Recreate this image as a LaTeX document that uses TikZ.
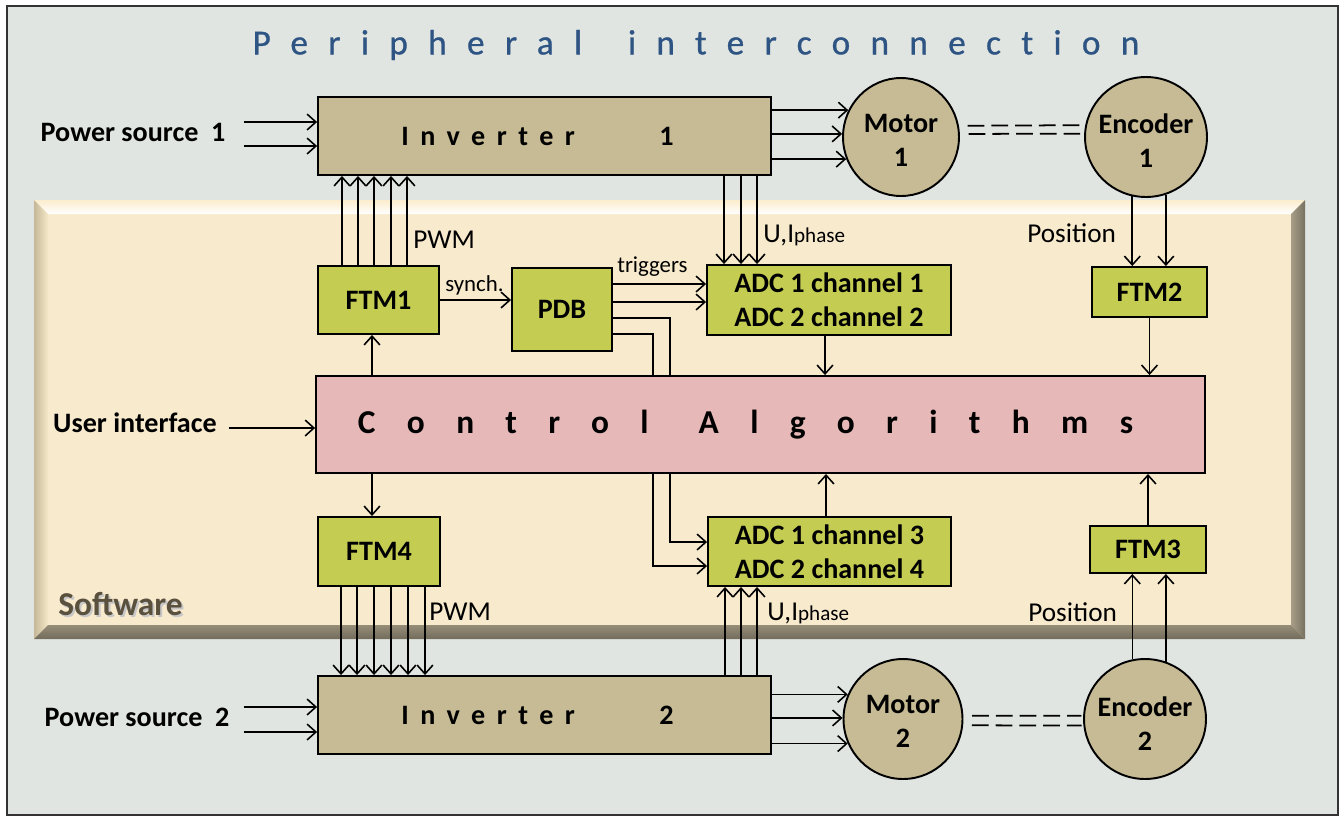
\documentclass[tikz,border=0pt]{standalone}
\usepackage{fontspec}
\setmainfont{Carlito}
\usetikzlibrary{shapes.geometric,arrows.meta}
\definecolor{bgray}{RGB}{225,229,225}
\definecolor{panel}{RGB}{248,234,205}
\definecolor{tanfill}{RGB}{198,187,148}
\definecolor{ftmgreen}{RGB}{196,205,82}
\definecolor{ctrlpink}{RGB}{230,184,183}
\definecolor{titleblue}{RGB}{46,84,132}
\definecolor{swtext}{RGB}{89,80,62}

\begin{document}
\begin{tikzpicture}[x=0.02cm,y=-0.02cm,
  arr/.style={-{Straight Barb[length=5pt,width=9pt]},line width=0.9pt},
  blk/.style={draw,line width=1.1pt,fill=ftmgreen,inner sep=0pt,align=center,font=\bfseries\fontsize{16}{19.3}\selectfont},
  invbox/.style={draw,line width=1.1pt,fill=tanfill,minimum width=9.06cm,minimum height=1.56cm,inner sep=0pt,font=\bfseries\fontsize{16}{19}\selectfont\addfontfeatures{LetterSpace=41}},
  mach/.style={ellipse,draw,line width=1.1pt,fill=tanfill,inner sep=0pt},
  machtxt/.style={align=center,inner sep=0pt,font=\bfseries\fontsize{16}{19.3}\selectfont},
  side/.style={font=\bfseries\fontsize{16}{19}\selectfont,inner sep=0pt},
  note/.style={font=\fontsize{15.5}{18}\selectfont,inner sep=0pt},
  small/.style={font=\fontsize{13}{15}\selectfont,inner sep=0pt},
  dbl/.style={dash pattern=on 9.5pt off 4pt,line width=1pt,shorten <=5pt,shorten >=1pt}]
\useasboundingbox (0,0) rectangle (1343,819);
\fill[white] (0,0) rectangle (1343,819);
\draw[fill=bgray,line width=1.2pt,draw=black!80] (7,6) rectangle (1338,815);

% software panel
\fill[panel] (34,200) rectangle (1305,639);
\shade[top color={rgb,255:red,251;green,237;blue,205},bottom color=white] (34,200) -- (1305,200) -- (1291,214) -- (48,214) -- cycle;
\shade[left color={rgb,255:red,196;green,184;blue,152},right color={rgb,255:red,245;green,232;blue,200}] (34,200) -- (48,214) -- (48,625) -- (34,639) -- cycle;
\shade[left color={rgb,255:red,168;green,158;blue,136},right color={rgb,255:red,120;green,112;blue,96}] (1305,200) -- (1305,639) -- (1291,625) -- (1291,214) -- cycle;
\shade[top color={rgb,255:red,150;green,141;blue,120},bottom color={rgb,255:red,115;green,108;blue,92}] (34,639) -- (48,625) -- (1291,625) -- (1305,639) -- cycle;
\node[font=\bfseries\fontsize{19}{22}\selectfont,text=black!22,anchor=west,inner sep=0pt] (swsh) at (60,606) {Software};
\node[font=\bfseries\fontsize{19}{22}\selectfont,text=swtext,anchor=west,inner sep=0pt] (sw) at (58,604) {Software};

% title
\node[font=\fontsize{20}{24}\selectfont\addfontfeatures{LetterSpace=58,Ligatures=NoCommon,FakeBold=0.8},text=titleblue] (title) at (696,45) {Peripheral\hspace{0.5em} interconnection};

% blocks
\node[invbox] (inv1) at (544.5,136) {Inverter\hspace{3em}1\hspace*{0.28cm}};
\node[invbox] (inv2) at (544.5,715) {Inverter\hspace{3em}2\hspace*{0.28cm}};
\node[blk,minimum width=2.42cm,minimum height=1.36cm] (ftm1) at (378.5,300) {FTM1};
\node[blk,minimum width=2.44cm,minimum height=1.38cm] (ftm4) at (379,551.5) {FTM4};
\node[blk,minimum width=2cm,minimum height=1.66cm] (pdb) at (562,309.5) {PDB};
\node[blk,minimum width=4.88cm,minimum height=1.4cm] (adc12) at (829,300) {ADC 1 channel 1\\ADC 2 channel 2};
\node[blk,minimum width=4.86cm,minimum height=1.38cm] (adc34) at (829.5,551.5) {ADC 1 channel 3\\ADC 2 channel 4};
\node[blk,minimum width=2.3cm,minimum height=1cm] (ftm2) at (1149.5,292) {FTM2};
\node[blk,minimum width=2.32cm,minimum height=0.94cm] (ftm3) at (1148,549.5) {FTM3};

% motors and encoders
\node[mach,minimum width=2.32cm,minimum height=2.36cm] (mot1) at (901,137) {};
\node[machtxt] (mot1txt) at (901,140) {Motor\\1};
\node[mach,minimum width=2.44cm,minimum height=2.4cm] (enc1) at (1146,137) {};
\node[machtxt] (enc1txt) at (1146,141) {Encoder\\1};
\node[mach,minimum width=2.38cm,minimum height=2.4cm] (mot2) at (903,719) {};
\node[machtxt] (mot2txt) at (903,721) {Motor\\2};
\node[mach,minimum width=2.44cm,minimum height=2.4cm] (enc2) at (1145,719) {};
\node[machtxt] (enc2txt) at (1145,724) {Encoder\\2};

% PDB to ADC 3/4, behind the control box
\draw[arr] (pdb.east |- 0,318) -| (670,542) -- (adc34.west |- 0,542);
\draw[arr] (pdb.east |- 0,334) -| (653,566) -- (adc34.west |- 0,566);

\node[draw,line width=1.1pt,fill=ctrlpink,minimum width=17.78cm,minimum height=1.94cm,inner sep=0pt,
  font=\bfseries\fontsize{19}{22}\selectfont\addfontfeatures{LetterSpace=94}] (ctrl) at (760.5,424.5) {Control\hspace{1.5em}Algorithms\hspace*{0.6cm}};

% side labels
\node[side] (ps1) at (133,132) {Power source\hspace{0.45em}1};
\node[side] (ps2) at (137,717) {Power source\hspace{0.45em}2};
\node[side] (ui) at (135,423) {User interface};
\node[note,anchor=west] (pwm1) at (413,240) {PWM};
\node[note,anchor=west] (pwm4) at (429,612) {PWM};
\node[small,anchor=west] (syn) at (445,285) {synch.};
\node[small,anchor=west] (trg) at (617,267) {triggers};
\node[note,anchor=west] (uip1) at (763,235) {U,I{\fontsize{12}{14}\selectfont phase}};
\node[note,anchor=west] (uip2) at (767,613) {U,I{\fontsize{12}{14}\selectfont phase}};
\node[note,anchor=west] (pos1) at (1027,233) {Position};
\node[note,anchor=west] (pos2) at (1028,612) {Position};

% connectors
\draw[arr] ([shift={(18,-10)}]ps1.east) -- ([shift={(0,-14)}]inv1.west);
\draw[arr] ([shift={(18,14)}]ps1.east) -- ([shift={(0,10)}]inv1.west);
\draw[arr] ([shift={(14,-10)}]ps2.east) -- ([shift={(0,-8)}]inv2.west);
\draw[arr] ([shift={(14,15)}]ps2.east) -- ([shift={(0,17)}]inv2.west);
\draw[arr] ([shift={(12,5)}]ui.east) -- ([shift={(0,3.5)}]ctrl.west);

\foreach \x in {342,358,374,391,407}
  \draw[arr] (ftm1.north -| \x,0) -- (inv1.south -| \x,0);
\foreach \x in {341,357,374,391,408,425}
  \draw[arr] (ftm4.south -| \x,0) -- (inv2.north -| \x,0);
\foreach \x in {724,741,757}
  \draw[arr] (inv1.south -| \x,0) -- (adc12.north -| \x,0);
\foreach \x in {725,741,757}
  \draw[arr] (inv2.north -| \x,0) -- (adc34.south -| \x,0);

\foreach \a in {153,177,202}
  \draw[arr] (inv1.east |- mot1.\a) -- (mot1.\a);
\foreach \a in {156,179,204}
  \draw[arr] (inv2.east |- mot2.\a) -- (mot2.\a);

\draw[dbl] (mot1.11) -- (enc1.169);
\draw[dbl] (mot1.3) -- (enc1.177);
\draw[dbl] (mot2.3) -- (enc2.177);
\draw[dbl] (mot2.354) -- (enc2.186);

\foreach \a in {257,289}
  \draw[arr] (enc1.\a) -- (enc1.\a |- ftm2.north);
\foreach \a in {102,70}
  \draw[arr] (enc2.\a) -- (enc2.\a |- ftm3.south);

\draw[arr] (ctrl.north -| 372,0) -- (ftm1.south -| 372,0);
\draw[arr] (ctrl.south -| 372,0) -- (ftm4.north -| 372,0);
\draw[arr] (adc12.south -| 825,0) -- (ctrl.north -| 825,0);
\draw[arr] (adc34.north -| 826,0) -- (ctrl.south -| 826,0);
\draw[arr] (ftm2.south) -- (ftm2.south |- ctrl.north);
\draw[arr] (ftm3.north) -- (ftm3.north |- ctrl.south);
\draw[arr] (ftm1.east) -- (pdb.west |- ftm1.east);
\foreach \y in {284,302}
  \draw[arr] (pdb.east |- 0,\y) -- (adc12.west |- 0,\y);
\end{tikzpicture}
\end{document}
